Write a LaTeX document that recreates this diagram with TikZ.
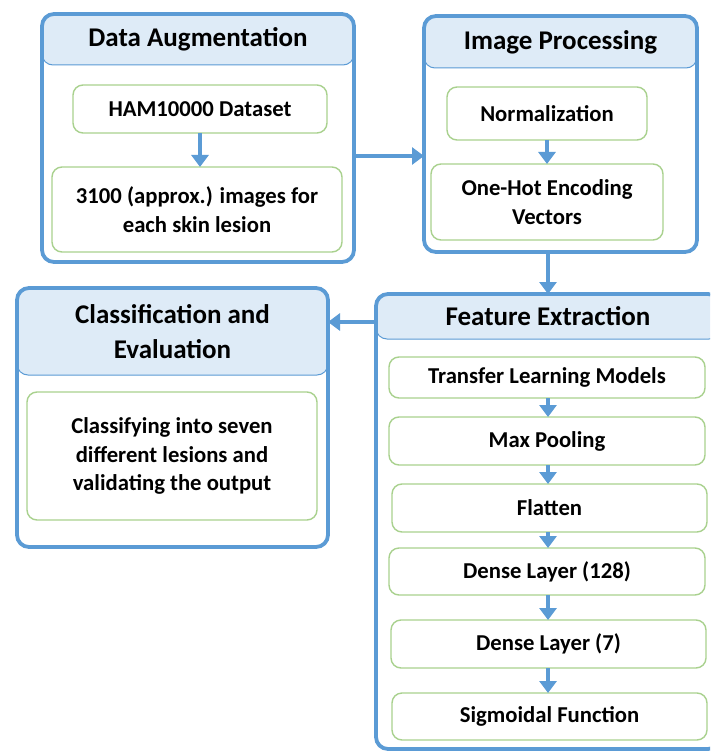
\documentclass[tikz,border=0pt]{standalone}
\usepackage{fontspec}
\setmainfont{Carlito}
\usetikzlibrary{arrows.meta}
\definecolor{pblue}{HTML}{5B9BD5}
\definecolor{hfill}{HTML}{DEEBF7}
\definecolor{gbox}{HTML}{A9D18E}
\begin{document}
\begin{tikzpicture}[x=1pt,y=-1pt,
  panel/.style={fill=white, rounded corners=12pt, anchor=north west, inner sep=0pt, outer sep=0pt},
  rim/.style={draw=pblue, line width=3.8pt, rounded corners=12pt},
  head/.style={draw=pblue, line width=1pt, fill=hfill, rounded corners=11pt, anchor=north west, inner sep=0pt, outer sep=0pt,
    font=\bfseries\fontsize{27}{35}\selectfont, align=center},
  box/.style={draw=gbox, line width=1.4pt, fill=white, rounded corners=10pt, anchor=north west, inner sep=0pt, outer sep=0pt,
    font=\bfseries\fontsize{22.7}{28.5}\selectfont, align=center},
  arr/.style={draw=pblue, line width=4.5pt, -{Triangle[width=17pt,length=12pt]}}]
\useasboundingbox (0,0) rectangle (710,751);
\clip (0,0) rectangle (710,751);
\fill[white] (0,0) rectangle (710,751);

% Data Augmentation
\node[panel, minimum width=312pt, minimum height=248pt] (da) at (42,14) {};
\node[head, minimum width=312pt, minimum height=51pt] (dah) at (42,14) {Data Augmentation};
\draw[rim] (da.north west) rectangle (da.south east);
\node[box, minimum width=254pt, minimum height=48pt] (ham) at (73,85) {HAM10000 Dataset};
\node[box, minimum width=290pt, minimum height=85pt] (img) at (52,167) {3100 (approx.) images for\\each skin lesion};
\draw[arr] (ham.south) -- (ham.south |- img.north);

% Image Processing
\node[panel, minimum width=273pt, minimum height=236pt] (ip) at (424,16) {};
\node[head, minimum width=273pt, minimum height=52pt] (iph) at (424,16) {Image Processing};
\draw[rim] (ip.north west) rectangle (ip.south east);
\node[box, minimum width=200pt, minimum height=53pt] (norm) at (447,87) {Normalization};
\node[box, minimum width=232pt, minimum height=76pt] (ohe) at (431,164) {One-Hot Encoding\\Vectors};
\draw[arr] (norm.south) -- (norm.south |- ohe.north);

% Classification and Evaluation
\node[panel, minimum width=311pt, minimum height=259pt] (ce) at (17,288) {};
\node[head, minimum width=311pt, minimum height=87pt] (ceh) at (17,288) {Classification and\\Evaluation};
\draw[rim] (ce.north west) rectangle (ce.south east);
\node[box, minimum width=290pt, minimum height=128pt] (cls) at (27,392) {Classifying into seven\\different lesions and\\validating the output};

% Feature Extraction
\node[panel, minimum width=344pt, minimum height=455pt] (fe) at (376,294) {};
\node[head, minimum width=344pt, minimum height=45pt] (feh) at (376,294) {Feature Extraction};
\draw[rim] (fe.north west) rectangle (fe.south east);
\node[box, minimum width=316pt, minimum height=41pt] (tl) at (389,357) {Transfer Learning Models};
\node[box, minimum width=316pt, minimum height=48pt] (mp) at (389,417) {Max Pooling};
\node[box, minimum width=315pt, minimum height=48pt] (fl) at (392,484) {Flatten};
\node[box, minimum width=316pt, minimum height=47pt] (d1) at (389,548) {Dense Layer (128)};
\node[box, minimum width=315pt, minimum height=48pt] (d2) at (391,620) {Dense Layer (7)};
\node[box, minimum width=315pt, minimum height=47pt] (sf) at (392,693) {Sigmoidal Function};
\coordinate (ax) at (548,0);
\draw[arr] (ax |- tl.south) -- (ax |- mp.north);
\draw[arr] (ax |- mp.south) -- (ax |- fl.north);
\draw[arr] (ax |- fl.south) -- (ax |- d1.north);
\draw[arr] (ax |- d1.south) -- (ax |- d2.north);
\draw[arr] (ax |- d2.south) -- (ax |- sf.north);

% panel connectors
\coordinate (ya) at (0,156);
\draw[arr] (da.east |- ya) -- (ip.west |- ya);
\draw[arr] (ax |- ip.south) -- (ax |- fe.north);
\coordinate (yb) at (0,322);
\draw[arr] (fe.west |- yb) -- (ce.east |- yb);
\end{tikzpicture}
\end{document}
